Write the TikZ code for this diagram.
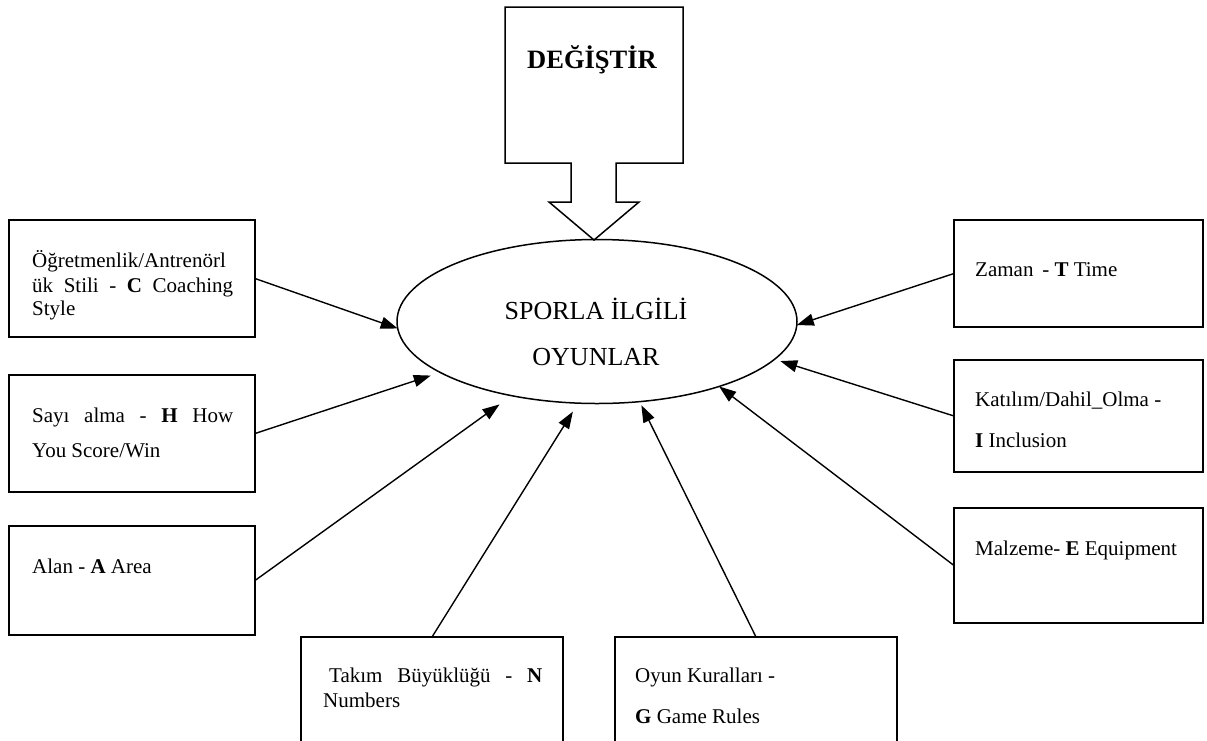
\documentclass[tikz,border=0pt]{standalone}
\usepackage{fontspec}
\setmainfont{Liberation Serif}
\usetikzlibrary{arrows.meta,shapes.geometric}

\tikzset{
  box/.style={draw, line width=1.6pt, rectangle, inner sep=0pt, outer sep=0pt, anchor=north west},
  txt/.style={anchor=base west, inner sep=0pt, font=\fontsize{21}{24}\selectfont},
  etxt/.style={anchor=base, inner sep=0pt, font=\fontsize{26}{30}\selectfont},
  conn/.style={line width=1.4pt, -{Triangle[length=17pt,width=12pt]}},
}

\begin{document}
\begin{tikzpicture}[x=1pt,y=-1pt]
\useasboundingbox (0,0) rectangle (1207,740);
\clip (0,0) rectangle (1207,740);

% top block arrow (callout)
\draw[line width=1.5pt, line join=miter] (505,7) -- (683,7) -- (683,163) -- (616,163) -- (616,202) -- (639,202) -- (594,240) -- (549,202) -- (571,202) -- (571,163) -- (505,163) -- cycle;
\node[anchor=base, inner sep=0pt, font=\bfseries\fontsize{26.5}{30}\selectfont] (deg) at (592,68) {DEĞİŞTİR};

% central ellipse
\node[draw, ellipse, line width=1.5pt, minimum width=400pt, minimum height=164pt, inner sep=0pt, outer sep=0pt] (ell) at (597,321.5) {};
\node[etxt] (e1) at (596,319) {SPORLA İLGİLİ};
\node[etxt] (e2) at (596,365) {OYUNLAR};

% boxes
\node[box, minimum width=246pt, minimum height=117pt] (coach) at (9,220) {};
\node[box, minimum width=246pt, minimum height=117pt] (sayi) at (9,375) {};
\node[box, minimum width=246pt, minimum height=109pt] (alan) at (9,526) {};
\node[box, minimum width=249pt, minimum height=107pt] (zaman) at (954,220) {};
\node[box, minimum width=249pt, minimum height=112pt] (katil) at (954,360) {};
\node[box, minimum width=249pt, minimum height=115pt] (malz) at (954,508) {};
\node[box, minimum width=262pt, minimum height=130pt] (takim) at (301,637) {};
\node[box, minimum width=282pt, minimum height=130pt] (oyun) at (615,637) {};

% box texts
\node[txt] (c1) at (32,267) {Öğretmenlik/Antrenörl};
\node[txt] (c2) at (32,292) {\makebox[201pt][s]{ük Stili - \textbf{C} Coaching}};
\node[txt] (c3) at (32,315) {Style};
\node[txt] (s1) at (32,422) {\makebox[201pt][s]{Sayı alma - \textbf{H} How}};
\node[txt] (s2) at (32,457) {You Score/Win};
\node[txt] (a1) at (32,573) {Alan - \textbf{A} Area};
\node[txt] (z1) at (975,276) {Zaman \,- \textbf{T} Time};
\node[txt] (k1) at (975,406) {Katılım/Dahil\_Olma -};
\node[txt] (k2) at (975,447) {\textbf{I} Inclusion};
\node[txt] (m1) at (975,555) {Malzeme- \textbf{E} Equipment};
\node[txt] (t1) at (329,682) {\makebox[213pt][s]{Takım Büyüklüğü - \textbf{N}}};
\node[txt] (t2) at (323,707) {Numbers};
\node[txt] (o1) at (635,682) {Oyun Kuralları -};
\node[txt] (o2) at (635,723) {\textbf{G} Game Rules};

% connectors
\draw[conn] (coach.east) -- (ell.182);
\draw[conn, shorten >=10pt] (sayi.east) -- (ell.198);
\draw[conn, shorten >=15pt] (alan.east) -- (ell.221);
\draw[conn, shorten >=10pt] (takim.north) -- (ell.257);
\draw[conn, shorten >=4pt] (oyun.north) -- (ell.298);
\draw[conn] (malz.west) -- (ell.332);
\draw[conn, shorten >=6pt] (katil.west) -- (ell.348);
\draw[conn] (zaman.west) -- (ell.359);
\end{tikzpicture}
\end{document}
